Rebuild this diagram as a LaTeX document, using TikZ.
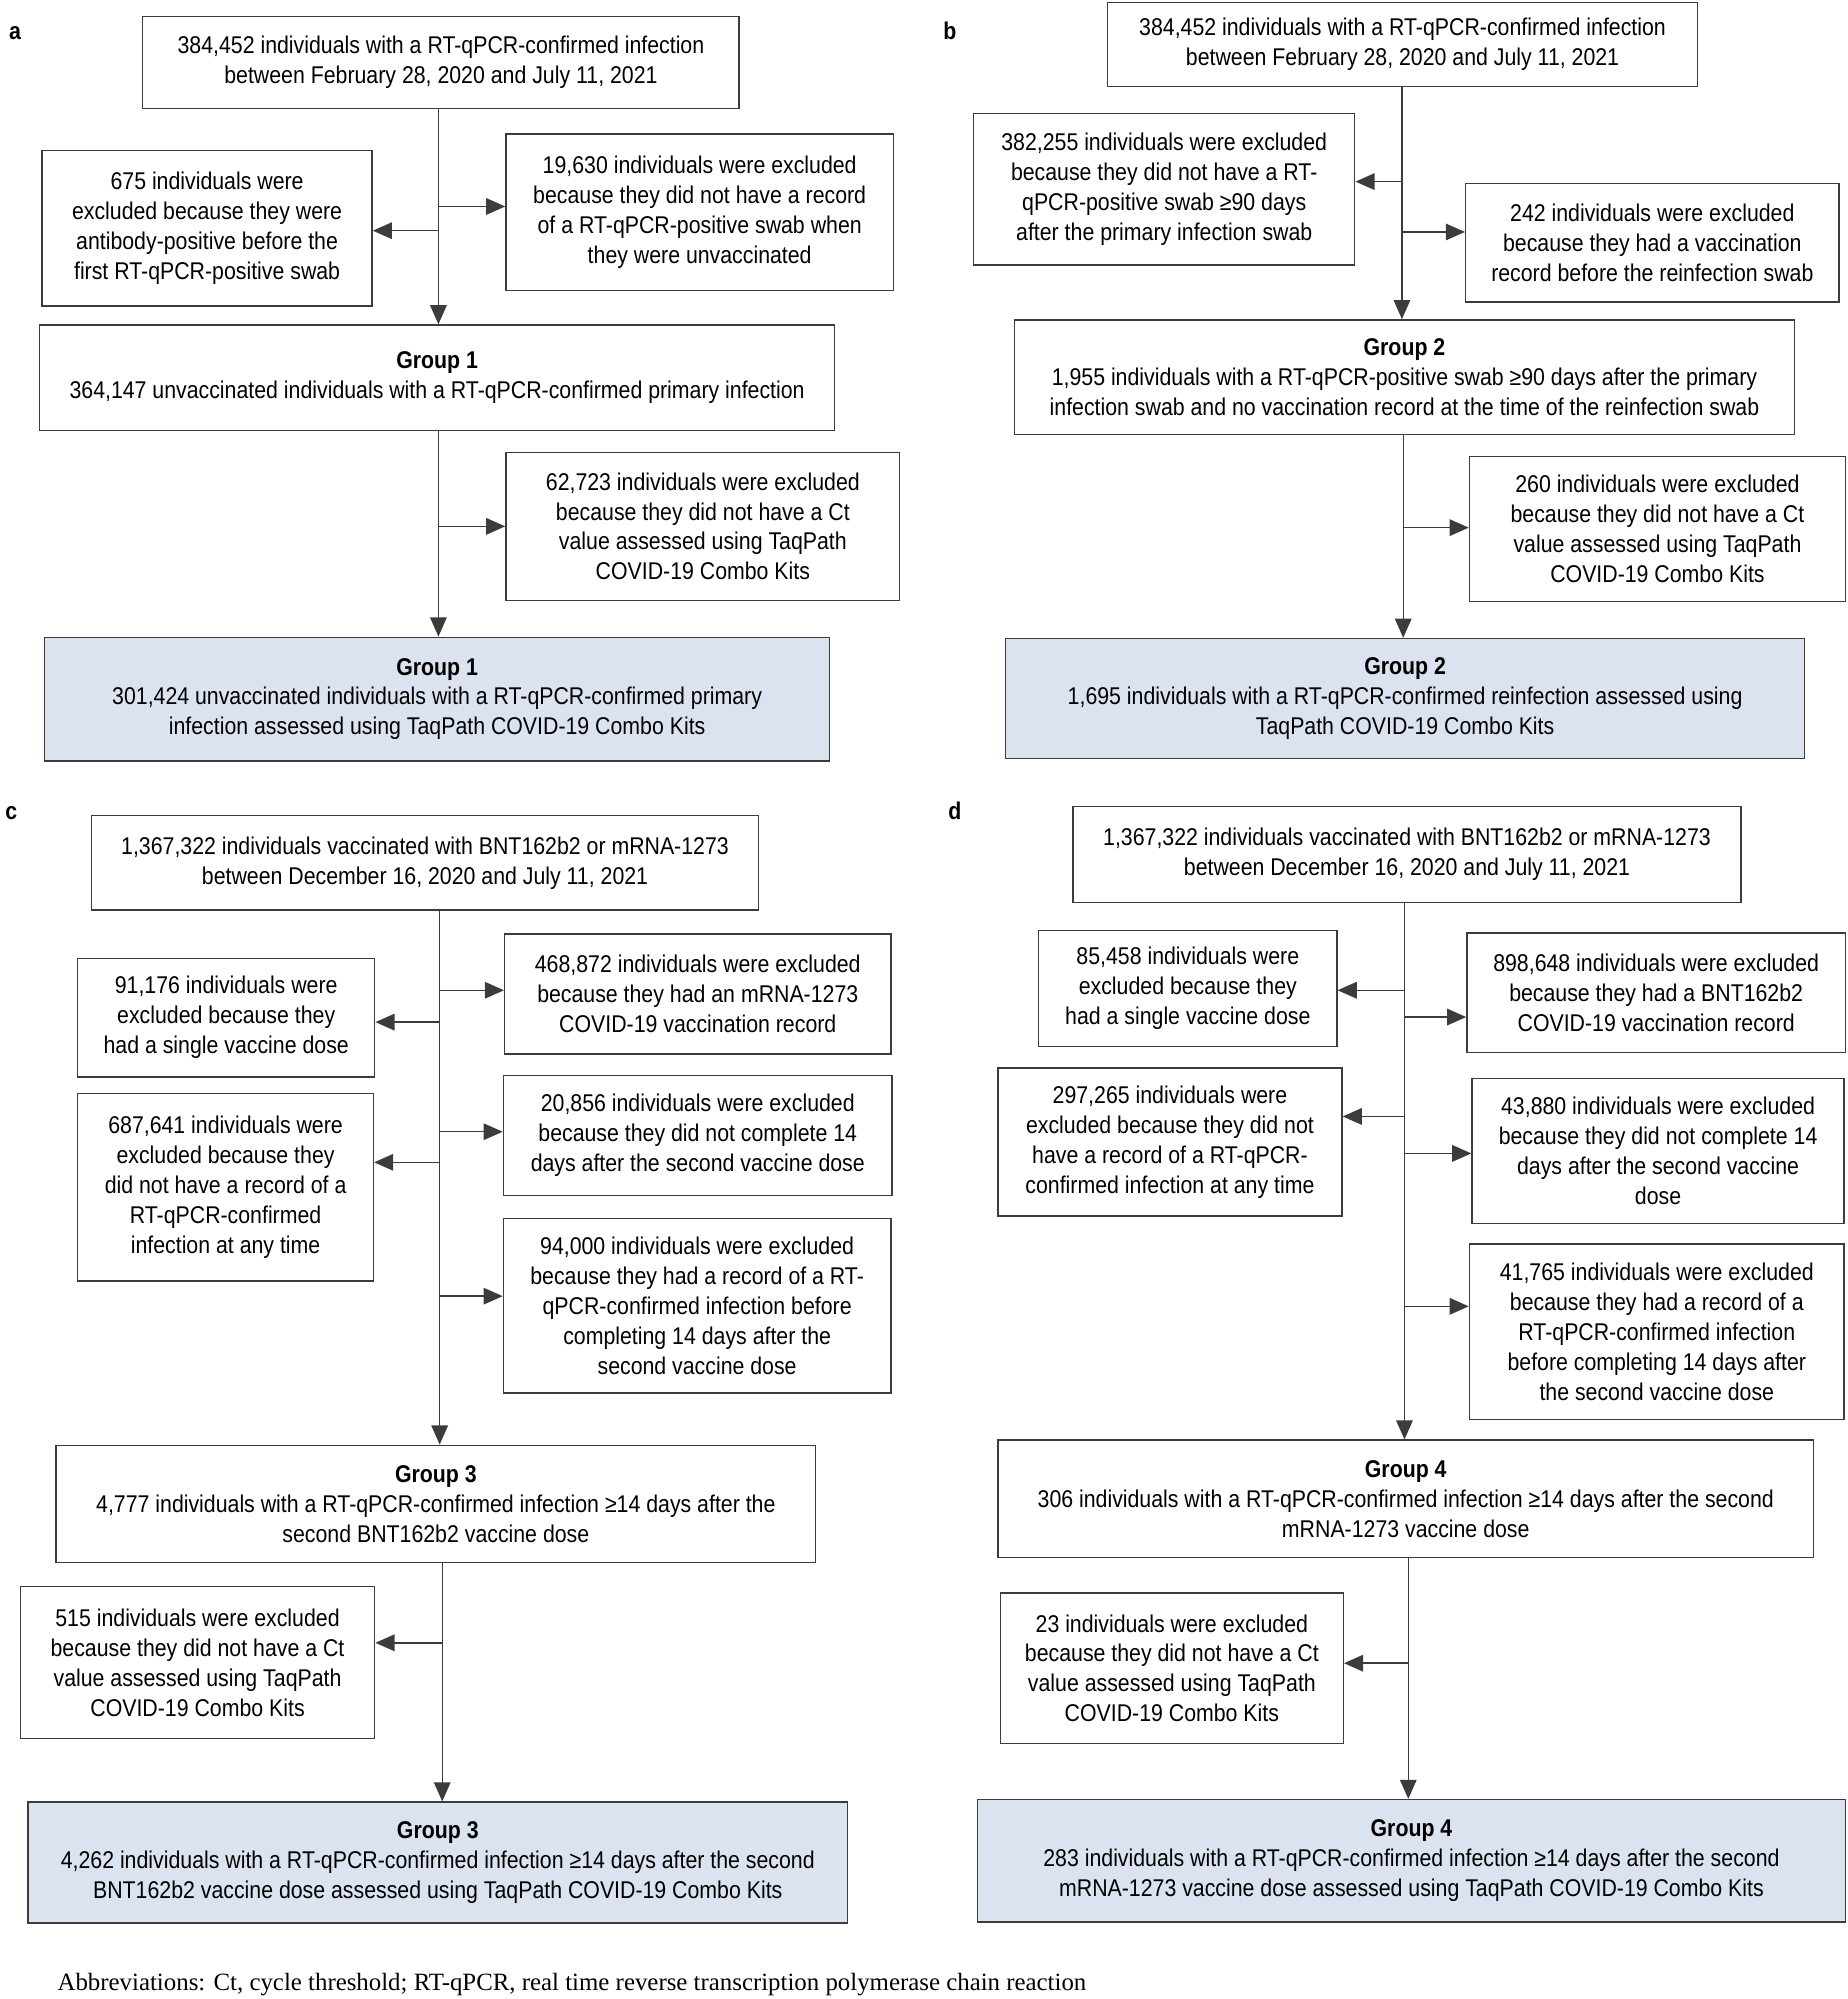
\documentclass[tikz,border=0pt]{standalone}
\usepackage{fontspec}
\setmainfont{Liberation Sans}[FakeStretch=0.88]
\newfontfamily\notefont{Liberation Serif}
\usetikzlibrary{arrows.meta}
\definecolor{groupblue}{RGB}{220,227,240}
\definecolor{linegray}{RGB}{60,60,60}
\tikzset{
  box/.style={draw=linegray, line width=1.1pt, fill=white, align=center, inner sep=0pt,
    font=\fontsize{19}{23.5}\selectfont},
  finalbox/.style={box, fill=groupblue},
  conn/.style={draw=linegray, line width=1.1pt},
  arr/.style={conn, -{Triangle[length=15pt,width=13pt]}},
  plabel/.style={font=\fontsize{19}{23}\selectfont\bfseries, anchor=base west, inner sep=0pt},
}
\newcommand{\mkboxx}[7][box]{%
  \node[#1, minimum width={(#5-#3)*1pt}, minimum height={(#6-#4)*1pt}] (#2) at ({(#3+#5)/2},{(#4+#6)/2}) {#7};}
\begin{document}
\begin{tikzpicture}[x=1pt,y=-1pt]
\useasboundingbox (0,0) rectangle (1450,1568.5);
% ---------------- panel a
\node[plabel] (la) at (7,31) {a};
\mkboxx{A0}{112}{13}{580}{85}{384,452 individuals with a RT-qPCR-confirmed infection\\between February 28, 2020 and July 11, 2021}
\mkboxx{AL}{33}{118}{292}{240}{675 individuals were\\excluded because they were\\antibody-positive before the\\first RT-qPCR-positive swab}
\mkboxx{AR}{397}{105}{701}{228}{19,630 individuals were excluded\\because they did not have a record\\of a RT-qPCR-positive swab when\\they were unvaccinated}
\mkboxx{G1}{31}{255}{655}{338}{\textbf{Group 1}\\364,147 unvaccinated individuals with a RT-qPCR-confirmed primary infection}
\mkboxx{ACT}{397}{355}{706}{471}{62,723 individuals were excluded\\because they did not have a Ct\\value assessed using TaqPath\\COVID-19 Combo Kits}
\mkboxx[finalbox]{G1F}{35}{500}{651}{597}{\textbf{Group 1}\\301,424 unvaccinated individuals with a RT-qPCR-confirmed primary\\infection assessed using TaqPath COVID-19 Combo Kits}
\coordinate (ta) at (344,0);
\coordinate (a1) at (344,181);
\coordinate (a2) at (344,162);
\coordinate (a3) at (344,413);
\draw[arr] (A0.south -| ta) -- (G1.north -| ta);
\draw[arr] (a1) -- (a1 -| AL.east);
\draw[arr] (a2) -- (a2 -| AR.west);
\draw[arr] (G1.south -| ta) -- (G1F.north -| ta);
\draw[arr] (a3) -- (a3 -| ACT.west);
% ---------------- panel b
\node[plabel] (lb) at (740,31) {b};
\mkboxx{B0}{869}{2}{1332}{68}{384,452 individuals with a RT-qPCR-confirmed infection\\between February 28, 2020 and July 11, 2021}
\mkboxx{BL}{764}{89}{1063}{208}{382,255 individuals were excluded\\because they did not have a RT-\\qPCR-positive swab ≥90 days\\after the primary infection swab}
\mkboxx{BR}{1150}{144}{1443}{237}{242 individuals were excluded\\because they had a vaccination\\record before the reinfection swab}
\mkboxx{G2}{796}{251}{1408}{341}{\textbf{Group 2}\\1,955 individuals with a RT-qPCR-positive swab ≥90 days after the primary\\infection swab and no vaccination record at the time of the reinfection swab}
\mkboxx{BCT}{1153}{358}{1448}{472}{260 individuals were excluded\\because they did not have a Ct\\value assessed using TaqPath\\COVID-19 Combo Kits}
\mkboxx[finalbox]{G2F}{789}{501}{1416}{595}{\textbf{Group 2}\\1,695 individuals with a RT-qPCR-confirmed reinfection assessed using\\TaqPath COVID-19 Combo Kits}
\coordinate (tb) at (1100,0);
\coordinate (tbb) at (1101,0);
\coordinate (b1) at (1100,142.5);
\coordinate (b2) at (1100,182);
\coordinate (b3) at (1101,414);
\draw[arr] (B0.south -| tb) -- (G2.north -| tb);
\draw[arr] (b1) -- (b1 -| BL.east);
\draw[arr] (b2) -- (b2 -| BR.west);
\draw[arr] (G2.south -| tbb) -- (G2F.north -| tbb);
\draw[arr] (b3) -- (b3 -| BCT.west);
% ---------------- panel c
\node[plabel] (lc) at (4,643) {c};
\mkboxx{C0}{72}{640}{595}{714}{1,367,322 individuals vaccinated with BNT162b2 or mRNA-1273\\between December 16, 2020 and July 11, 2021}
\mkboxx{CL1}{61}{752}{294}{845}{91,176 individuals were\\excluded because they\\had a single vaccine dose}
\mkboxx{CR1}{396}{733}{699}{827}{468,872 individuals were excluded\\because they had an mRNA-1273\\COVID-19 vaccination record}
\mkboxx{CL2}{61}{858}{293}{1005}{687,641 individuals were\\excluded because they\\did not have a record of a\\RT-qPCR-confirmed\\infection at any time}
\mkboxx{CR2}{395}{844}{700}{938}{20,856 individuals were excluded\\because they did not complete 14\\days after the second vaccine dose}
\mkboxx{CR3}{395}{956}{699}{1093}{94,000 individuals were excluded\\because they had a record of a RT-\\qPCR-confirmed infection before\\completing 14 days after the\\second vaccine dose}
\mkboxx{G3}{44}{1134}{640}{1226}{\textbf{Group 3}\\4,777 individuals with a RT-qPCR-confirmed infection ≥14 days after the\\second BNT162b2 vaccine dose}
\mkboxx{CCT}{16}{1245}{294}{1364}{515 individuals were excluded\\because they did not have a Ct\\value assessed using TaqPath\\COVID-19 Combo Kits}
\mkboxx[finalbox]{G3F}{22}{1414}{665}{1509}{\textbf{Group 3}\\4,262 individuals with a RT-qPCR-confirmed infection ≥14 days after the second\\BNT162b2 vaccine dose assessed using TaqPath COVID-19 Combo Kits}
\coordinate (tc) at (345,0);
\coordinate (tcc) at (347,0);
\coordinate (c1) at (345,777);
\coordinate (c2) at (345,802);
\coordinate (c3) at (345,888);
\coordinate (c4) at (345,912);
\coordinate (c5) at (345,1017);
\coordinate (c6) at (347,1289);
\draw[arr] (C0.south -| tc) -- (G3.north -| tc);
\draw[arr] (c1) -- (c1 -| CR1.west);
\draw[arr] (c2) -- (c2 -| CL1.east);
\draw[arr] (c3) -- (c3 -| CR2.west);
\draw[arr] (c4) -- (c4 -| CL2.east);
\draw[arr] (c5) -- (c5 -| CR3.west);
\draw[arr] (G3.south -| tcc) -- (G3F.north -| tcc);
\draw[arr] (c6) -- (c6 -| CCT.east);
% ---------------- panel d
\node[plabel] (ld) at (744,643) {d};
\mkboxx{D0}{842}{633}{1366}{708}{1,367,322 individuals vaccinated with BNT162b2 or mRNA-1273\\between December 16, 2020 and July 11, 2021}
\mkboxx{DL1}{815}{730}{1049}{821}{85,458 individuals were\\excluded because they\\had a single vaccine dose}
\mkboxx{DR1}{1151}{732}{1448}{826}{898,648 individuals were excluded\\because they had a BNT162b2\\COVID-19 vaccination record}
\mkboxx{DL2}{783}{838}{1053}{954}{297,265 individuals were\\excluded because they did not\\have a record of a RT-qPCR-\\confirmed infection at any time}
\mkboxx{DR2}{1155}{846}{1447}{960}{43,880 individuals were excluded\\because they did not complete 14\\days after the second vaccine\\dose}
\mkboxx{DR3}{1153}{976}{1447}{1114}{41,765 individuals were excluded\\because they had a record of a\\RT-qPCR-confirmed infection\\before completing 14 days after\\the second vaccine dose}
\mkboxx{G4}{783}{1130}{1423}{1222}{\textbf{Group 4}\\306 individuals with a RT-qPCR-confirmed infection ≥14 days after the second\\mRNA-1273 vaccine dose}
\mkboxx{DCT}{785}{1250}{1054}{1368}{23 individuals were excluded\\because they did not have a Ct\\value assessed using TaqPath\\COVID-19 Combo Kits}
\mkboxx[finalbox]{G4F}{767}{1412}{1448}{1508}{\textbf{Group 4}\\283 individuals with a RT-qPCR-confirmed infection ≥14 days after the second\\mRNA-1273 vaccine dose assessed using TaqPath COVID-19 Combo Kits}
\coordinate (td) at (1102,0);
\coordinate (tdd) at (1105,0);
\coordinate (d1) at (1102,777);
\coordinate (d2) at (1102,798);
\coordinate (d3) at (1102,876);
\coordinate (d4) at (1102,905);
\coordinate (d5) at (1102,1025);
\coordinate (d6) at (1105,1305);
\draw[arr] (D0.south -| td) -- (G4.north -| td);
\draw[arr] (d1) -- (d1 -| DL1.east);
\draw[arr] (d2) -- (d2 -| DR1.west);
\draw[arr] (d3) -- (d3 -| DL2.east);
\draw[arr] (d4) -- (d4 -| DR2.west);
\draw[arr] (d5) -- (d5 -| DR3.west);
\draw[arr] (G4.south -| tdd) -- (G4F.north -| tdd);
\draw[arr] (d6) -- (d6 -| DCT.east);
% ---------------- footnote
\node[anchor=base west, inner sep=0pt, font=\notefont\fontsize{19.5}{23}\selectfont] (note) at (45,1562) {Abbreviations: Ct, cycle threshold; RT-qPCR, real time reverse transcription polymerase chain reaction};
\end{tikzpicture}
\end{document}
